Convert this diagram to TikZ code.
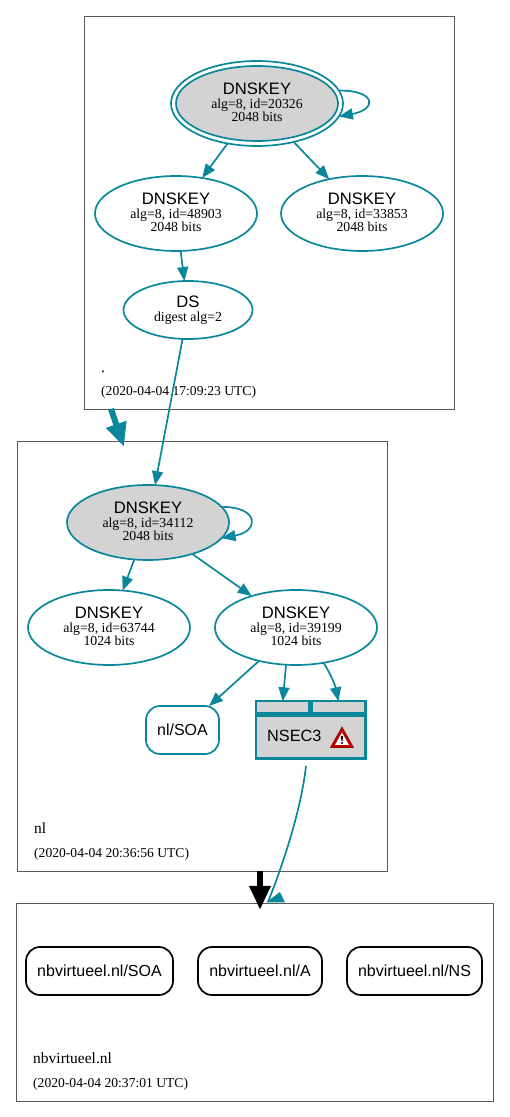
\documentclass[tikz,border=0pt]{standalone}
\usepackage{fontspec}
\setmainfont{Liberation Serif}
\setsansfont{Liberation Sans}
\usetikzlibrary{shapes.geometric, positioning, arrows.meta}
\definecolor{dnsteal}{HTML}{0A879A}
\definecolor{dnsgray}{HTML}{D3D3D3}
\newcommand{\keytext}[2]{{\sffamily\fontsize{16.6}{16.6}\selectfont DNSKEY}\\[1pt]#1\\#2\rule[-3.5pt]{0pt}{1pt}}
\tikzset{
  dnskey/.style={ellipse, draw=dnsteal, line width=1.7pt, minimum width=162pt, minimum height=75pt, inner sep=0pt, outer sep=0pt, align=center, font=\fontsize{13.8}{13}\selectfont},
  dsnode/.style={ellipse, draw=dnsteal, line width=1.7pt, minimum width=129pt, minimum height=58pt, inner sep=0pt, outer sep=0pt, align=center, font=\fontsize{13.8}{13}\selectfont},
  zonebox/.style={rectangle, draw=black!65, line width=0.8pt, outer sep=0pt, inner sep=0pt},
  rrset/.style={rectangle, rounded corners=14pt, draw=black, line width=1.7pt, minimum height=48pt, inner sep=0pt, outer sep=0pt, font=\sffamily\fontsize{16}{16}\selectfont},
  zonename/.style={anchor=base west, inner sep=0pt, font=\fontsize{15.5}{16}\selectfont},
  zonetime/.style={anchor=base west, inner sep=0pt, font=\fontsize{13.6}{14}\selectfont},
  nseccell/.style={rectangle, fill=dnsgray, draw=dnsteal, line width=2.4pt, inner sep=0pt, outer sep=0pt},
  arrow/.style={draw=dnsteal, line width=1.7pt, -{Triangle[length=14pt, width=11pt]}},
  bigarrow/.style={line width=6pt, -{Triangle[length=24pt, width=20pt]}}
}
\begin{document}
\begin{tikzpicture}[x=1pt, y=1pt]
  \useasboundingbox (0,0) rectangle (509,1117);

  % --- Zonas ---
  \node (zoneroot) [zonebox, minimum width=370pt, minimum height=393pt] at (269,904.5) {};
  \node (zonenl) [zonebox, minimum width=370pt, minimum height=430pt, below=32pt of zoneroot, xshift=-67pt] {};
  \node (zoneleaf) [zonebox, minimum width=477pt, minimum height=198pt, below=32pt of zonenl, xshift=52.5pt] {};

  % --- Zona raiz ---
  \node (rootksk) [dnskey, fill=dnsgray] at (257,1013.5) {\keytext{alg=8, id=20326}{2048 bits}};
  \node (rootring) [ellipse, draw=dnsteal, line width=1.7pt, minimum width=172pt, minimum height=85pt, inner sep=0pt, outer sep=0pt] at (rootksk) {};
  \node (rootzska) [dnskey, below=30pt of rootring, xshift=-81pt] {\keytext{alg=8, id=48903}{2048 bits}};
  \node (rootzskb) [dnskey, right=24pt of rootzska] {\keytext{alg=8, id=33853}{2048 bits}};
  \node (rootds) [dsnode, below=30pt of rootzska, xshift=12pt] {{\sffamily\fontsize{16.6}{16.6}\selectfont DS}\\[1pt]digest alg=2\rule[-2pt]{0pt}{1pt}};
  \node (rootdot) [zonename] at (101,744) {.};
  \node (roottime) [zonetime] at (101,721) {(2020-04-04 17:09:23 UTC)};

  % --- Zona nl ---
  \node (nlksk) [dnskey, fill=dnsgray] at (148,594.5) {\keytext{alg=8, id=34112}{2048 bits}};
  \node (nlzska) [dnskey, below=30pt of nlksk, xshift=-39pt] {\keytext{alg=8, id=63744}{1024 bits}};
  \node (nlzskb) [dnskey, right=25pt of nlzska] {\keytext{alg=8, id=39199}{1024 bits}};
  \node (nlsoa) [rrset, draw=dnsteal, minimum width=73pt, below=41pt of nlzskb, xshift=-113.5pt] {nl/SOA};
  % Caja NSEC3
  \node (nsecbody) [nseccell, minimum width=109.5pt, minimum height=43.2pt, anchor=north west] at (256,401.5) {};
  \node (nsecleft) [nseccell, minimum width=53.5pt, minimum height=12.2pt, above=2pt of nsecbody.north west, anchor=south west] {};
  \node (nsecright) [nseccell, minimum width=54pt, minimum height=12.2pt, right=2pt of nsecleft] {};
  \node (nsectext) [anchor=west, inner sep=0pt, font=\sffamily\fontsize{16.3}{16}\selectfont] at (267,381) {NSEC3};
  \node (nlname) [zonename] at (34,283) {nl};
  \node (nltime) [zonetime] at (34,259) {(2020-04-04 20:36:56 UTC)};
  % Icono de aviso
  \fill [draw=red!60!black, fill=red!75!black, line width=0.6pt, line join=round] (342,390) -- (353.5,369.5) -- (330.5,369.5) -- cycle;
  \fill [white, line join=round] (342,384.5) -- (349,372) -- (335,372) -- cycle;
  \fill [black] (341,381) -- (343,381) -- (342.6,376) -- (341.4,376) -- cycle;
  \fill [black] (342,374) circle (1.1pt);

  % --- Zona nbvirtueel.nl ---
  \node (leafsoa) [rrset, minimum width=147pt] at (99.5,146) {nbvirtueel.nl/SOA};
  \node (leafa) [rrset, minimum width=124pt, right=25pt of leafsoa] {nbvirtueel.nl/A};
  \node (leafns) [rrset, minimum width=135pt, right=25pt of leafa] {nbvirtueel.nl/NS};
  \node (leafname) [zonename] at (33,53) {nbvirtueel.nl};
  \node (leaftime) [zonetime] at (33,30) {(2020-04-04 20:37:01 UTC)};

  % --- Conexiones ---
  \draw [arrow] (rootring) -- (rootzska);
  \draw [arrow] (rootring) -- (rootzskb);
  \draw [arrow] (rootzska) -- (rootds);
  \draw [arrow] (rootds) -- (nlksk);
  \draw [arrow] (rootring.9) .. controls +(38,0) and +(38,7) .. (rootring.-9);
  \draw [arrow] (nlksk.12) .. controls +(38,0) and +(38,7) .. (nlksk.-12);
  \draw [arrow] (nlksk) -- (nlzska);
  \draw [arrow] (nlksk) -- (nlzskb);
  \draw [arrow] (nlzskb) -- (nlsoa);
  \draw [arrow] (nlzskb.-105) -- (nsecleft.north);
  \draw [arrow] (nlzskb.-52) to [out=-58, in=102] (nsecright.north);

  % Retorno hacia la zona inferior
  \coordinate (nsecout) at (306,351);
  \coordinate (leaftop) at (268,215);
  \draw [draw=dnsteal, line width=1.7pt] (nsecout) .. controls +(-5,-45) and +(14,35) .. (leaftop);
  \fill [dnsteal] (280,225) -- (285,214.5) -- (266,214.5) -- cycle;

  % Flechas gruesas entre zonas
  \coordinate (rootexit) at (111,708);
  \coordinate (nlentry) at (124,670);
  \coordinate (nlexit) at (260,246);
  \coordinate (leafentry) at (260,207);
  \draw [bigarrow, draw=dnsteal] (rootexit) -- (nlentry);
  \draw [bigarrow, draw=black] (nlexit) -- (leafentry);
\end{tikzpicture}
\end{document}
